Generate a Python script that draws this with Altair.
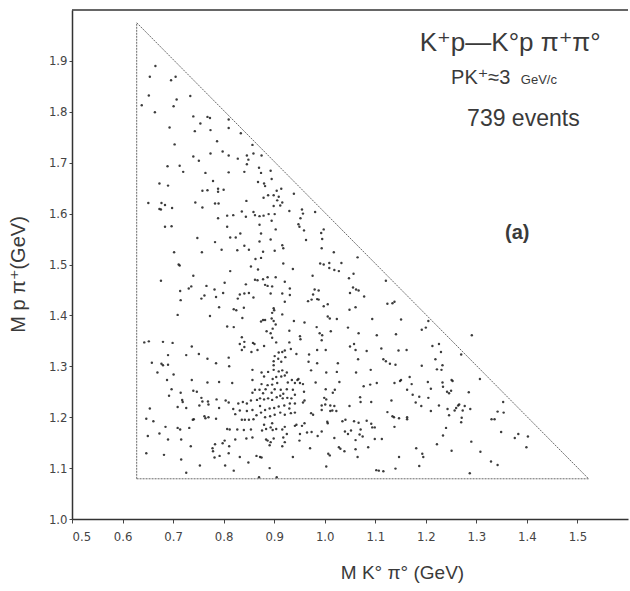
import altair as alt
import pandas as pd

# ---- events (M(K0 pi0), M(p pi+)) in GeV ----
events_top = [
    (0.665,1.890),(0.654,1.869),(0.705,1.869),(0.696,1.862),(0.652,1.832),(0.734,1.831),(0.707,1.824),
    (0.638,1.813),(0.701,1.811),(0.664,1.799),(0.740,1.791),(0.768,1.790),(0.773,1.788),(0.754,1.777),
    (0.810,1.785),(0.693,1.769),(0.743,1.762),(0.774,1.764),(0.810,1.768),(0.834,1.758),(0.703,1.736),
    (0.787,1.742),(0.857,1.735),(0.774,1.718),(0.798,1.722),(0.810,1.714),(0.740,1.712),(0.751,1.704),
    (0.828,1.708),(0.846,1.714),(0.859,1.718),(0.875,1.714),(0.849,1.706),(0.846,1.697),(0.689,1.693),
    (0.713,1.694),(0.870,1.690),(0.720,1.682),(0.764,1.680),(0.810,1.681),(0.841,1.682),(0.874,1.680),
    (0.893,1.684),(0.895,1.668),(0.779,1.664),(0.868,1.662),(0.880,1.659),(0.673,1.659),
]

events_left_mid = [
    (0.690,1.655),(0.882,1.654),(0.758,1.645),(0.768,1.646),(0.789,1.649),(0.789,1.643),(0.800,1.647),
    (0.905,1.645),(0.914,1.649),(0.899,1.636),(0.888,1.636),(0.909,1.633),(0.939,1.639),(0.879,1.631),
    (0.906,1.626),(0.899,1.615),(0.912,1.616),(0.916,1.622),(0.651,1.621),(0.677,1.621),(0.684,1.617),
    (0.673,1.609),(0.676,1.608),(0.698,1.611),(0.744,1.622),(0.758,1.612),(0.783,1.620),(0.790,1.620),
    (0.845,1.625),(0.930,1.605),(0.807,1.596),(0.819,1.597),(0.789,1.591),(0.859,1.603),(0.862,1.597),
    (0.879,1.596),(0.871,1.595),(0.889,1.599),(0.901,1.599),(0.844,1.594),(0.836,1.604),(0.684,1.574),
    (0.697,1.575),(0.807,1.574),(0.871,1.578),(0.895,1.586),(0.903,1.569),(0.833,1.561),(0.813,1.553),
    (0.824,1.553),(0.874,1.561),(0.748,1.552),(0.783,1.544),(0.841,1.537),(0.796,1.529),(0.827,1.528),
    (0.850,1.529),(0.871,1.545),(0.893,1.549),(0.916,1.538),(0.918,1.532),(0.702,1.524),(0.757,1.524),
    (0.878,1.525),(0.901,1.527),(0.863,1.511),(0.874,1.513),(0.918,1.502),(0.711,1.500),(0.713,1.498),
    (0.937,1.491),(0.854,1.496),(0.813,1.487),(0.740,1.478),(0.868,1.490),(0.862,1.470),(0.867,1.469),
    (0.878,1.471),(0.887,1.475),(0.903,1.475),(0.921,1.466),(0.676,1.468),(0.802,1.464),(0.731,1.453),
    (0.736,1.457),(0.766,1.458),(0.844,1.461),(0.882,1.460),(0.887,1.458),(0.896,1.457),(0.931,1.453),
    (0.714,1.448),(0.715,1.430),(0.782,1.451),(0.799,1.444),(0.762,1.439),(0.756,1.433),(0.785,1.436),
    (0.832,1.441),(0.841,1.443),(0.850,1.444),(0.859,1.435),(0.893,1.443),(0.916,1.443),(0.931,1.440),
    (0.828,1.433),(0.791,1.416),(0.820,1.412),(0.825,1.410),(0.840,1.415),(0.899,1.414),(0.900,1.410),
    (0.896,1.405),(0.921,1.427),(0.709,1.401),(0.773,1.399),(0.837,1.395),(0.874,1.388),(0.878,1.391),
    (0.882,1.391),(0.895,1.394),(0.899,1.389),(0.916,1.402),(0.939,1.389),(0.807,1.378),(0.820,1.377),
    (0.903,1.382),(0.897,1.374),(0.885,1.369),(0.893,1.365),(0.930,1.370),(0.652,1.349),(0.643,1.347),
    (0.680,1.348),(0.699,1.346),(0.836,1.357),(0.841,1.348),(0.832,1.344),(0.858,1.346),(0.861,1.344),
    (0.896,1.356),(0.904,1.347),(0.930,1.347),
]

events_left_low = [
    (0.880,1.340),(0.737,1.339),(0.690,1.322),(0.726,1.322),(0.751,1.324),(0.768,1.315),(0.810,1.317),
    (0.836,1.332),(0.841,1.338),(0.855,1.328),(0.867,1.332),(0.901,1.320),(0.909,1.327),(0.916,1.328),
    (0.921,1.331),(0.933,1.334),(0.658,1.307),(0.677,1.305),(0.680,1.302),(0.690,1.303),(0.785,1.306),
    (0.811,1.300),(0.899,1.310),(0.899,1.302),(0.908,1.315),(0.914,1.309),(0.922,1.318),(0.669,1.288),
    (0.701,1.284),(0.857,1.293),(0.875,1.288),(0.888,1.289),(0.909,1.290),(0.916,1.292),(0.925,1.288),
    (0.899,1.293),(0.880,1.280),(0.914,1.280),(0.921,1.282),(0.688,1.273),(0.737,1.273),(0.768,1.268),
    (0.791,1.269),(0.817,1.267),(0.857,1.273),(0.897,1.275),(0.904,1.279),(0.875,1.265),(0.887,1.263),
    (0.896,1.264),(0.906,1.267),(0.927,1.268),(0.941,1.267),(0.935,1.273),(0.697,1.255),(0.715,1.248),
    (0.740,1.252),(0.747,1.250),(0.862,1.254),(0.871,1.254),(0.883,1.255),(0.901,1.255),(0.913,1.254),
    (0.925,1.255),(0.937,1.254),(0.857,1.248),(0.878,1.247),(0.895,1.248),(0.918,1.246),(0.692,1.242),
    (0.718,1.234),(0.719,1.230),(0.756,1.238),(0.758,1.231),(0.769,1.231),(0.786,1.235),(0.804,1.233),
    (0.810,1.229),(0.829,1.227),(0.838,1.230),(0.846,1.227),(0.854,1.233),(0.866,1.234),(0.872,1.237),
    (0.880,1.235),(0.888,1.237),(0.896,1.234),(0.905,1.239),(0.912,1.242),(0.917,1.237),(0.926,1.238),
    (0.934,1.237),(0.941,1.244),(0.654,1.217),(0.709,1.220),(0.726,1.218),(0.752,1.223),(0.770,1.225),
    (0.791,1.218),(0.819,1.216),(0.832,1.213),(0.846,1.212),(0.857,1.214),(0.872,1.222),(0.882,1.214),
    (0.891,1.217),(0.900,1.218),(0.909,1.221),(0.920,1.223),(0.930,1.217),(0.941,1.227),(0.931,1.227),
    (0.647,1.197),(0.661,1.192),(0.739,1.195),(0.741,1.196),(0.764,1.198),(0.762,1.202),(0.770,1.200),
    (0.785,1.197),(0.823,1.206),(0.836,1.195),(0.842,1.195),(0.850,1.195),(0.859,1.196),(0.865,1.204),
    (0.874,1.209),(0.882,1.200),(0.892,1.202),(0.901,1.205),(0.912,1.209),(0.921,1.205),(0.933,1.208),
    (0.941,1.209),(0.685,1.181),(0.709,1.179),(0.714,1.176),(0.732,1.179),(0.807,1.177),(0.812,1.176),
    (0.827,1.176),(0.840,1.175),(0.854,1.176),(0.876,1.174),(0.884,1.177),(0.893,1.180),(0.897,1.175),
    (0.904,1.177),(0.916,1.176),(0.921,1.181),(0.941,1.183),(0.880,1.185),(0.896,1.188),(0.925,1.167),
    (0.650,1.163),(0.673,1.168),(0.716,1.156),(0.690,1.156),(0.823,1.156),(0.845,1.158),(0.857,1.160),
    (0.884,1.156),(0.887,1.154),(0.893,1.151),(0.899,1.158),(0.918,1.160),(0.921,1.151),(0.735,1.143),
    (0.778,1.139),(0.783,1.147),(0.798,1.149),(0.802,1.154),(0.811,1.143),(0.891,1.145),(0.916,1.143),
    (0.647,1.129),(0.682,1.126),(0.779,1.133),(0.782,1.121),(0.810,1.129),(0.832,1.122),(0.865,1.124),
    (0.872,1.122),(0.875,1.121),(0.937,1.122),(0.716,1.117),(0.792,1.124),(0.753,1.105),(0.803,1.105),
    (0.849,1.111),(0.820,1.095),(0.891,1.100),(0.726,1.091),(0.870,1.082),(0.905,1.082),
]

events_mid_upper = [
    (0.955,1.608),(0.957,1.600),(0.952,1.591),(0.948,1.579),(0.950,1.574),(0.981,1.603),(0.959,1.567),
    (0.993,1.562),(0.998,1.569),(0.995,1.550),(0.963,1.548),(0.994,1.532),(1.018,1.524),(1.065,1.514),
    (0.991,1.502),(0.998,1.500),(1.009,1.503),(1.033,1.503),(1.009,1.493),(1.019,1.489),(1.028,1.487),
    (0.976,1.478),(1.057,1.482),(1.048,1.473),(0.980,1.451),(0.988,1.449),(1.056,1.455),(1.050,1.444),
    (1.062,1.451),(1.067,1.449),(1.121,1.468),(0.977,1.441),(0.985,1.432),(0.988,1.431),(0.974,1.431),
    (0.967,1.428),(1.078,1.437),(1.006,1.422),(0.998,1.418),(1.061,1.416),(1.049,1.411),(1.124,1.423),
    (1.134,1.424),(1.138,1.427),(1.006,1.398),(1.010,1.394),(1.024,1.393),(1.094,1.393),(1.151,1.392),
    (0.960,1.386),(0.984,1.377),(1.046,1.376),(1.012,1.369),(0.990,1.365),(0.995,1.361),(1.067,1.365),
    (1.103,1.361),(1.141,1.363),(1.192,1.372),(1.200,1.376),(1.205,1.389),(0.951,1.359),(0.952,1.353),
    (0.994,1.351),(1.058,1.344),(1.226,1.344),
]

events_mid_low = [
    (1.050,1.339),(1.061,1.332),(1.083,1.330),(1.112,1.335),(1.146,1.331),(1.162,1.332),(1.213,1.340),
    (0.944,1.324),(0.969,1.323),(0.985,1.332),(1.002,1.332),(1.230,1.328),(0.968,1.309),(0.985,1.306),
    (1.066,1.314),(1.026,1.306),(1.116,1.314),(1.121,1.310),(1.129,1.305),(1.140,1.303),(1.192,1.301),
    (1.219,1.314),(1.233,1.302),(0.973,1.292),(1.003,1.288),(1.024,1.289),(1.062,1.288),(1.091,1.293),
    (1.222,1.294),(1.231,1.293),(0.946,1.273),(0.948,1.275),(0.951,1.267),(0.957,1.265),(0.959,1.250),
    (0.982,1.268),(1.002,1.255),(1.016,1.248),(1.020,1.254),(1.029,1.269),(1.077,1.261),(1.090,1.264),
    (1.103,1.267),(1.138,1.267),(1.149,1.271),(1.151,1.273),(1.168,1.279),(1.172,1.265),(1.204,1.269),
    (1.233,1.268),(1.234,1.260),(1.251,1.273),(1.253,1.271),(1.242,1.250),(1.246,1.247),(1.250,1.252),
    (1.210,1.256),(0.999,1.238),(1.003,1.235),(1.070,1.239),(1.071,1.230),(1.092,1.230),(0.960,1.233),
    (0.957,1.229),(0.994,1.223),(1.001,1.225),(1.011,1.223),(1.019,1.222),(1.015,1.213),(1.023,1.212),
    (1.049,1.222),(1.132,1.233),(1.163,1.254),(1.174,1.244),(1.187,1.240),(1.205,1.238),(1.180,1.229),
    (1.191,1.222),(1.210,1.212),(1.226,1.223),(1.243,1.216),(1.264,1.223),(1.260,1.218),(1.257,1.213),
    (0.973,1.208),(0.977,1.205),(0.994,1.214),(1.011,1.212),(1.124,1.210),(1.134,1.202),(1.137,1.200),
    (1.147,1.198),(1.163,1.200),(1.163,1.196),(1.246,1.204),(1.005,1.191),(1.006,1.188),(0.944,1.185),
    (0.955,1.183),(0.960,1.188),(1.035,1.192),(1.041,1.195),(1.058,1.192),(1.067,1.189),(1.083,1.193),
    (1.092,1.187),(1.094,1.180),(1.099,1.180),(1.071,1.176),(1.138,1.181),(1.240,1.179),(0.965,1.170),
    (0.974,1.171),(0.994,1.172),(0.986,1.163),(1.040,1.172),(1.046,1.167),(1.052,1.174),(1.069,1.166),
    (1.075,1.162),(0.951,1.167),(0.950,1.154),(1.019,1.159),(1.061,1.155),(1.099,1.157),(1.113,1.157),
    (1.234,1.164),(1.222,1.147),(0.971,1.139),(1.028,1.141),(1.031,1.138),(1.039,1.133),(1.061,1.137),
    (1.086,1.141),(1.181,1.139),(1.251,1.134),(1.007,1.128),(1.010,1.125),(1.065,1.122),(1.147,1.122),
    (1.193,1.128),(1.195,1.122),(1.003,1.103),(1.102,1.096),(1.107,1.095),(1.116,1.094),(1.140,1.099),
    (1.187,1.104),
]

events_right = [
    (1.270,1.323),(1.307,1.275),(1.285,1.249),(1.266,1.225),(1.277,1.222),(1.288,1.216),(1.273,1.213),
    (1.353,1.230),(1.342,1.211),(1.354,1.209),(1.271,1.199),(1.270,1.190),(1.330,1.196),(1.336,1.196),
    (1.349,1.171),(1.383,1.167),(1.376,1.159),(1.402,1.162),(1.290,1.152),(1.399,1.141),(1.308,1.132),
    (1.329,1.113),(1.342,1.106),(1.287,1.090),(1.291,1.361),
]

# kinematic boundary corners (left edge, top, right corner)
boundary_x = [0.628, 0.628, 1.522, 0.628]
boundary_y = [1.079, 1.975, 1.079, 1.079]

x_ticks = [0.5, 0.6, 0.7, 0.8, 0.9, 1.0, 1.1, 1.2, 1.3, 1.4, 1.5]
y_ticks = [1.0, 1.1, 1.2, 1.3, 1.4, 1.5, 1.6, 1.7, 1.8, 1.9]

all_events = (events_top + events_left_mid + events_left_low
              + events_mid_upper + events_mid_low + events_right)
df = pd.DataFrame(all_events, columns=["m_kpi", "m_ppi"])

LABEL_FONT = "Liberation Sans Narrow, DejaVu Sans Condensed, Liberation Sans, sans-serif"

xscale = alt.Scale(domain=[0.5, 1.6], nice=False, zero=False)
yscale = alt.Scale(domain=[1.0, 2.0], nice=False, zero=False)

x_axis = alt.Axis(values=x_ticks, format=".1f", title="M K° π°  (GeV)", grid=False,
                  tickSize=4, labelPadding=7, domainColor="#333", domainWidth=1.5,
                  tickColor="#444", labelColor="#444", labelFont=LABEL_FONT, labelFontSize=13,
                  titleFont="Liberation Sans, DejaVu Sans", titleFontSize=19, titleFontWeight="normal",
                  titleColor="#3a3a3a", titleX=330, titleY=53, titleBaseline="middle",
                  titleAnchor="start", titleAlign="center")
y_axis = alt.Axis(values=y_ticks, format=".1f", title="M p π⁺(GeV)", grid=False,
                  tickSize=3, labelPadding=2, domainColor="#333", domainWidth=1.5,
                  tickColor="#444", labelColor="#444", labelFont=LABEL_FONT, labelFontSize=13,
                  titleFont="Liberation Sans, DejaVu Sans", titleFontSize=20, titleFontWeight="normal",
                  titleColor="#3a3a3a", titleX=-54, titleY=264, titleBaseline="middle",
                  titleAngle=270, titleAlign="center")

points = alt.Chart(df).mark_circle(size=6, color="#1a1a1a", opacity=0.85).encode(
    x=alt.X("m_kpi:Q", scale=xscale, axis=x_axis),
    y=alt.Y("m_ppi:Q", scale=yscale, axis=y_axis),
)

bdf = pd.DataFrame({
    "x": [boundary_x[0], boundary_x[1], boundary_x[1], boundary_x[2], boundary_x[2], boundary_x[3]],
    "y": [boundary_y[0], boundary_y[1], boundary_y[1], boundary_y[2], boundary_y[2], boundary_y[3]],
    "seg": ["left", "left", "hyp", "hyp", "bottom", "bottom"],
    "o": [0, 1, 0, 1, 0, 1],
})
boundary = alt.Chart(bdf).mark_line(color="#6a6a6a", strokeWidth=1, strokeDash=[2, 1]).encode(
    x=alt.X("x:Q", scale=xscale), y=alt.Y("y:Q", scale=yscale), detail="seg:N", order="o:Q")

top_df = pd.DataFrame({"x": [0.5], "x2": [1.6], "y": [2.0]})
top_border = alt.Chart(top_df).mark_rule(color="#333", strokeWidth=1.5).encode(
    x=alt.X("x:Q", scale=xscale), x2="x2:Q", y=alt.Y("y:Q", scale=yscale))

labels_df = pd.DataFrame({
    "x": [1.367, 1.250, 1.388, 1.393, 1.381],
    "y": [1.919, 1.854, 1.854, 1.772, 1.551],
    "t": ["K⁺p—K°p π⁺π°", "PK⁺≈3", "GeV/c", "739 events", "(a)"],
    "size": [26, 20, 13, 23, 20],
    "align": ["center", "left", "left", "center", "center"],
    "weight": ["normal", "normal", "normal", "normal", "bold"],
})

def text_layer(i):
    row = labels_df.iloc[[i]]
    return alt.Chart(row).mark_text(
        align=row["align"].iloc[0], baseline="alphabetic", fontSize=int(row["size"].iloc[0]),
        fontWeight=row["weight"].iloc[0], color="#3a3a3a", font="Liberation Sans, DejaVu Sans"
    ).encode(x=alt.X("x:Q", scale=xscale), y=alt.Y("y:Q", scale=yscale), text="t:N")

texts = [text_layer(i) for i in range(len(labels_df))]

chart = alt.layer(boundary, top_border, points, *texts).properties(
    width=556, height=509,
    autosize=alt.AutoSizeParams(type="none"),
    padding={"left": 72, "top": 10, "right": 2, "bottom": 72},
    background="white",
).configure_view(stroke=None)

chart.save("out.html", embed_options={"renderer": "svg", "actions": False})
